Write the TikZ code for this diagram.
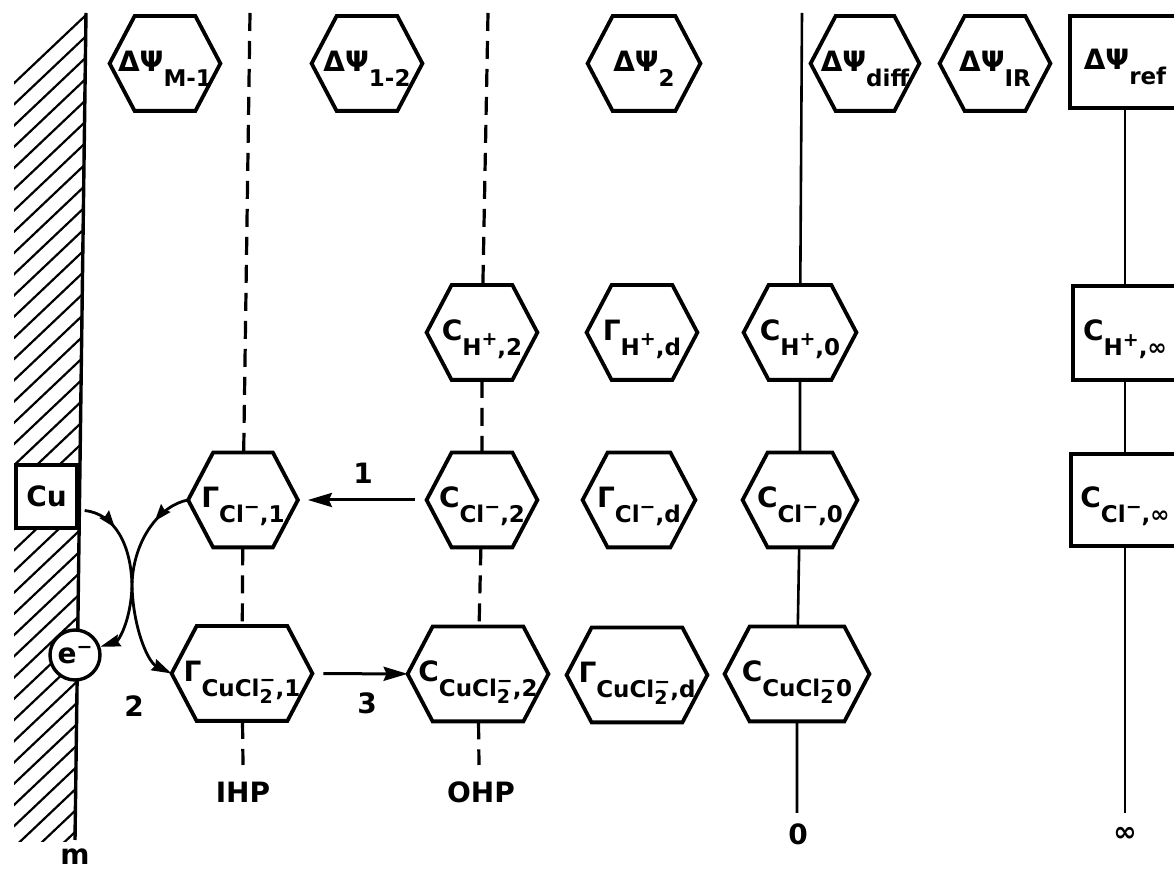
\documentclass[tikz,border=0pt]{standalone}
\usepackage{fontspec}
\setmainfont{DejaVu Sans}
\usetikzlibrary{arrows.meta,decorations.markings}

% lettering: main symbol, lowered subscript, raised charge sign
\newcommand\labfont{\fontsize{14}{15}\selectfont\bfseries}
\newcommand\sbs[1]{\raisebox{-7.5pt}{\fontsize{11.5}{12}\selectfont #1}}
\newcommand\spp[1]{\raisebox{4.8pt}{\fontsize{9.5}{10}\selectfont #1}}
\newcommand\twominus{\rlap{\raisebox{-3.5pt}{\fontsize{9.5}{10}\selectfont 2}}\raisebox{4.8pt}{\fontsize{9.5}{10}\selectfont −}}

\tikzset{
  hexline/.style={line width=1.9pt, line join=miter},
  hexa/.style={rectangle, inner sep=0pt, minimum height=47pt, minimum width=#1, font=\labfont,
    text height=12pt, text depth=4pt,
    append after command={\pgfextra{\draw[hexline]
      (\tikzlastnode.west) -- ([xshift=12.5pt]\tikzlastnode.north west)
      -- ([xshift=-12.5pt]\tikzlastnode.north east) -- (\tikzlastnode.east)
      -- ([xshift=-12.5pt]\tikzlastnode.south east) -- ([xshift=12.5pt]\tikzlastnode.south west)
      -- cycle;}}},
  plainbox/.style={rectangle, draw, line width=1.7pt, inner sep=0pt, font=\labfont},
  boxn/.style={plainbox, text height=12pt, text depth=4pt},
  solidl/.style={line width=1.3pt},
  dashl/.style={line width=1.6pt, dash pattern=on 9pt off 5pt},
  hatch/.style={line width=1.1pt},
  wall/.style={line width=1.7pt},
  lab/.style={font=\labfont},
  arr/.style={line width=1.5pt, -{Stealth[length=12pt,width=7pt,inset=1.5pt]}},
  carr/.style={line width=1.4pt, -{Stealth[length=10pt,width=6pt,inset=1pt]},
    postaction={decorate},
    decoration={markings, mark=at position #1 with {\arrow{Stealth[length=8.5pt,width=6pt,inset=1pt]}}}}
}

\begin{document}
\begin{tikzpicture}[x=0.5pt,y=-0.5pt]
\useasboundingbox (0,0) rectangle (1174,870);
\clip (0,0) rectangle (1174,870);

% metal electrode: hatching and surface
\begin{scope}
  \clip (14,13) rectangle (92,842);
  \foreach \k in {0,...,39}{
    \pgfmathsetmacro\yy{15+21.5*\k}
    \pgfmathsetmacro\xx{86-11*(\yy-15)/823}
    \draw[hatch] (\xx,\yy) -- ++(-95,90);
  }
\end{scope}
\coordinate (wallTop) at (86,13);
\coordinate (wallBot) at (75,840);
\draw[wall] (wallTop) -- (wallBot);

\node[plainbox, fill=white, minimum width=30.5pt, minimum height=31.5pt] (cu) at (46.5,496.5) {Cu};
\node[circle, draw, line width=1.7pt, fill=white, minimum size=25pt, inner sep=0pt, font=\labfont] (el) at (75,655) {e\spp{−}};

% potential drops
\node[hexa=55pt] (dM1) at (165,63.5) {ΔΨ\sbs{M-1}};
\node[hexa=55pt] (d12) at (367,63.5) {ΔΨ\sbs{1-2}};
\node[hexa=56pt] (d2) at (644,63.5) {ΔΨ\sbs{2}};
\node[hexa=54pt] (ddiff) at (865,63.5) {ΔΨ\sbs{diff}};
\node[hexa=55pt] (dIR) at (995,63.5) {ΔΨ\sbs{IR}};
\node[boxn, minimum width=55pt, minimum height=46pt] (dref) at (1125,62) {ΔΨ\sbs{ref}};

% hydrogen ion
\node[hexa=55pt] (cH2) at (482,332.5) {C\sbs{H\spp{+},2}};
\node[hexa=55pt] (gHd) at (642,332.5) {Γ\sbs{H\spp{+},d}};
\node[hexa=56pt] (cH0) at (800,332.5) {C\sbs{H\spp{+},0}};
\node[boxn, minimum width=52pt, minimum height=47pt] (cHinf) at (1125,333) {C\sbs{H\spp{+},∞}};

% chloride ion
\node[hexa=54.5pt] (gCl1) at (243,500) {Γ\sbs{Cl\spp{−},1}};
\node[hexa=55pt] (cCl2) at (482,500) {C\sbs{Cl\spp{−},2}};
\node[hexa=56pt] (gCld) at (639,500) {Γ\sbs{Cl\spp{−},d}};
\node[hexa=57pt] (cCl0) at (800,500) {C\sbs{Cl\spp{−},0}};
\node[boxn, minimum width=54pt, minimum height=46pt] (cClinf) at (1125,500) {C\sbs{Cl\spp{−},∞}};

% complex ion
\node[hexa=70pt] (gCu1) at (242,673.5) {Γ\sbs{CuCl\twominus,1}};
\node[hexa=70pt] (cCu2) at (478,674) {C\sbs{CuCl\twominus,2}};
\node[hexa=70pt] (gCud) at (637,675) {Γ\sbs{CuCl\twominus,d}};
\node[hexa=72pt] (cCu0) at (797,674) {C\sbs{CuCl\twominus 0}};

% planes
\coordinate (ihpTop) at (250,13);
\coordinate (ihpBot) at (243,765);
\draw[dashl] (ihpTop) -- (gCl1) -- (gCu1) -- (ihpBot);
\coordinate (ohpTop) at (488,13);
\coordinate (ohpBot) at (479,765);
\draw[dashl] (ohpTop) -- (cH2) -- (cCl2) -- (cCu2) -- (ohpBot);
\coordinate (zTop) at (802,13);
\coordinate (zBot) at (797,813);
\draw[solidl] (zTop) -- (cH0) -- (cCl0) -- (cCu0) -- (zBot);
\coordinate (infBot) at (1125,813);
\draw[solidl] (dref) -- (cHinf) -- (cClinf) -- (infBot);

\node[lab] (ihp) at (243,792) {IHP};
\node[lab] (ohp) at (481,792) {OHP};
\node[lab] (zero) at (798,834) {0};
\node[lab] (inf) at (1125,834) {∞};
\node[lab] (m) at (75,857) {m};

% reaction steps
\draw[arr, shorten <=6pt, shorten >=5pt] (cCl2) -- (gCl1);
\draw[arr, shorten <=5.5pt] (gCu1) -- (cCu2);
\node[lab] (s1) at (363,473) {1};
\node[lab] (s2) at (134,706) {2};
\node[lab] (s3) at (367,703) {3};

\coordinate (cuOut) at ([shift={(3pt,-7pt)}]cu.east);
\coordinate (xing) at (132,585);
\draw[carr=0.18] (cuOut) .. controls (115,514) and (131,545) .. (xing)
   .. controls (133,628) and (148,662) .. (gCu1.west);
\draw[carr=0.22] (gCl1.west) .. controls (160,505) and (133,540) .. (xing)
   .. controls (131,622) and (118,641) .. (el);
\end{tikzpicture}
\end{document}
